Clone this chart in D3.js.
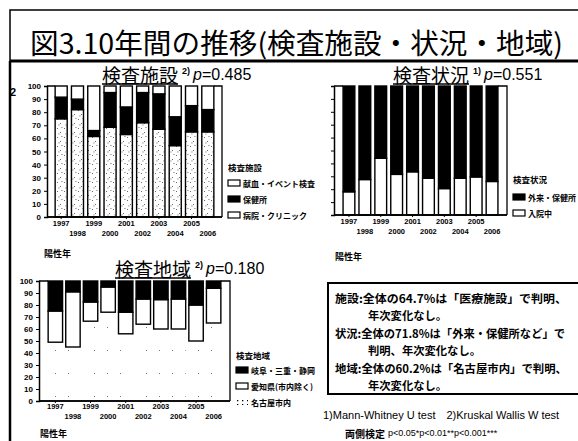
<!DOCTYPE html>
<html>
<head>
<meta charset="utf-8">
<script src="https://cdn.jsdelivr.net/npm/d3@7"></script>
<style>
  body { margin: 0; background: #fff; }
  svg { display: block; }
</style>
</head>
<body>
<svg id="fig" width="578" height="441"></svg>
<script>
// ---- data (percent of positives per year) ----
var years = [1997, 1998, 1999, 2000, 2001, 2002, 2003, 2004, 2005, 2006];
var yTicks = [0, 10, 20, 30, 40, 50, 60, 70, 80, 90, 100];

// 検査施設
var facilityKeys = ["病院・クリニック", "保健所", "献血・イベント検査"];
var clinic       = [75, 82, 61.5, 68.5, 63, 72, 67, 54.5, 65, 65];
var healthCenter = [16.5, 8, 4.5, 26.5, 21, 23, 27, 22, 20, 17];
var bloodEvent   = [8.5, 10, 34, 5, 16, 5, 6, 23.5, 15, 18];

// 検査状況
var statusKeys = ["入院中", "外来・保健所"];
var inpatient  = [18, 27.5, 44, 31.5, 33.5, 28.5, 20.5, 28.5, 29.5, 26];
var outpatient = [82, 72.5, 56, 68.5, 66.5, 71.5, 79.5, 71.5, 70.5, 74];

// 検査地域
var regionKeys = ["名古屋市内", "愛知県(市内除く)", "岐阜・三重・静岡"];
var nagoya = [49, 45, 66.5, 74, 56, 64, 60, 60, 50, 65];
var aichi  = [26, 46, 16, 21, 18, 21, 24.5, 25, 30, 29];
var other  = [25, 9, 17.5, 5, 26, 15, 15.5, 15, 20, 6];

var JP = "'Noto Sans CJK JP', sans-serif";
var LAT = "'Liberation Sans', Arial, sans-serif";

var svg = d3.select("#fig");
svg.append("rect").attr("width", 578).attr("height", 441).attr("fill", "#fff");

// speckle patterns for the lower segments
var defs = svg.append("defs");
var dots = defs.append("pattern").attr("id", "dots")
    .attr("patternUnits", "userSpaceOnUse").attr("width", 7).attr("height", 9);
dots.append("rect").attr("width", 7).attr("height", 9).attr("fill", "#fff");
[[1, 2], [4, 6], [5.5, 1], [2.5, 7.5]].forEach(function(p) {
  dots.append("rect").attr("x", p[0]).attr("y", p[1]).attr("width", 0.9).attr("height", 0.9).attr("fill", "#444");
});
var sparse = defs.append("pattern").attr("id", "sparse")
    .attr("patternUnits", "userSpaceOnUse").attr("width", 13).attr("height", 23);
sparse.append("rect").attr("width", 13).attr("height", 23).attr("fill", "#fff");
sparse.append("rect").attr("x", 3).attr("y", 5).attr("width", 0.9).attr("height", 0.9).attr("fill", "#555");
var colon = defs.append("pattern").attr("id", "colon")
    .attr("patternUnits", "userSpaceOnUse").attr("width", 5).attr("height", 4);
colon.append("rect").attr("width", 5).attr("height", 4).attr("fill", "#fff");
colon.append("rect").attr("x", 1).attr("y", 1).attr("width", 1.3).attr("height", 1.3).attr("fill", "#000");

// ---- page frame and title ----
svg.append("path").attr("d", "M10,441V10H578").attr("fill", "none").attr("stroke", "#000").attr("stroke-width", 1.5);
svg.append("line").attr("x1", 10).attr("x2", 578).attr("y1", 61).attr("y2", 61)
    .attr("stroke", "#000").attr("stroke-width", 3);
svg.append("line").attr("x1", 10).attr("x2", 10).attr("y1", 61).attr("y2", 441)
    .attr("stroke", "#000").attr("stroke-width", 2.5);
svg.append("text").attr("x", 30).attr("y", 42).attr("dominant-baseline", "central")
    .attr("font-family", JP).attr("font-size", 28)
    .attr("textLength", 533).attr("lengthAdjust", "spacingAndGlyphs")
    .text("図3.10年間の推移(検査施設・状況・地域)");
svg.append("text").attr("x", 10).attr("y", 92).attr("dominant-baseline", "central")
    .attr("font-family", LAT).attr("font-weight", "bold").attr("font-size", 11).text("2");

function chartTitle(x, y, label, note, p) {
  var t = svg.append("text").attr("x", x).attr("y", y).attr("dominant-baseline", "central")
      .attr("font-family", JP).attr("font-size", 19).text(label);
  var w = t.node().getComputedTextLength();
  svg.append("line").attr("x1", x).attr("x2", x + w).attr("y1", y + 10).attr("y2", y + 10)
      .attr("stroke", "#000").attr("stroke-width", 1.5);
  svg.append("text").attr("x", x + w + 4).attr("y", y - 3).attr("dominant-baseline", "central")
      .attr("font-family", LAT).attr("font-size", 9).attr("font-weight", "bold").text(note);
  var pt = svg.append("text").attr("x", x + w + 15).attr("y", y).attr("dominant-baseline", "central")
      .attr("font-family", LAT).attr("font-size", 16);
  pt.append("tspan").attr("font-style", "italic").text("p");
  pt.append("tspan").text("=" + p);
}

function stackChart(o) {
  var g = svg.append("g");
  var x = d3.scaleBand().domain(years).range(o.xr).paddingInner(o.pi).paddingOuter(o.po);
  var y = d3.scaleLinear().domain([0, 100]).range(o.yr);
  var rows = years.map(function(yr, i) {
    var r = { year: yr };
    o.keys.forEach(function(k, j) { r[k] = o.vals[j][i]; });
    return r;
  });
  var series = d3.stack().keys(o.keys)(rows);

  // right frame with short top hooks
  var first = x(years[0]), last = x(years[years.length - 1]) + x.bandwidth();
  g.append("path")
      .attr("d", "M" + o.xr[0] + "," + o.yr[1] + "H" + first +
                 "M" + last + "," + o.yr[1] + "H" + o.xr[1] + "V" + o.yr[0])
      .attr("fill", "none").attr("stroke", "#000").attr("stroke-width", 1.3);

  series.forEach(function(s, j) {
    g.append("g").selectAll("rect").data(s).join("rect")
        .attr("x", function(d) { return x(d.data.year); })
        .attr("y", function(d) { return y(d[1]); })
        .attr("width", x.bandwidth())
        .attr("height", function(d) { return y(d[0]) - y(d[1]); })
        .attr("fill", o.fills[j])
        .attr("stroke", o.strokes[j])
        .attr("stroke-width", 1.4);
  });

  var ya = g.append("g").attr("transform", "translate(" + o.xr[0] + ",0)")
      .call(d3.axisLeft(y).tickValues(yTicks).tickSize(3).tickPadding(3)
              .tickFormat(o.yLabels ? d3.format("d") : ""));
  ya.selectAll("text").attr("font-family", LAT).attr("font-weight", "bold").attr("font-size", 8);
  ya.select(".domain").attr("stroke-width", 1.5);

  [[0, o.pad1], [1, o.pad2]].forEach(function(r) {
    var xa = g.append("g").attr("transform", "translate(0," + o.yr[0] + ")")
        .call(d3.axisBottom(x).tickSize(2).tickPadding(r[1])
                .tickValues(years.filter(function(v, i) { return i % 2 === r[0]; })));
    xa.selectAll("text").attr("font-family", LAT).attr("font-weight", "bold").attr("font-size", 7.5);
    if (r[0] === 1) xa.selectAll("line").remove();
    xa.select(".domain").attr("d", "M" + o.xr[0] + ",0H" + o.xr[1]).attr("stroke-width", 1.5);
  });

  // legend (top-down order)
  var lg = svg.append("g").attr("transform", "translate(" + o.lx + "," + o.ly + ")");
  lg.append("text").attr("x", 0).attr("y", 0).attr("dominant-baseline", "central")
      .attr("font-family", JP).attr("font-weight", "bold").attr("font-size", 8.5).text(o.legendTitle);
  o.legend.forEach(function(it, i) {
    var yy = o.lstep0 + i * o.lstep;
    lg.append("rect").attr("x", 0).attr("y", yy - 3).attr("width", 12).attr("height", 6)
        .attr("fill", it.fill).attr("stroke", it.stroke).attr("stroke-width", 1.2);
    lg.append("text").attr("x", 15).attr("y", yy).attr("dominant-baseline", "central")
        .attr("font-family", JP).attr("font-weight", "bold").attr("font-size", 8).text(it.label);
  });

  svg.append("text").attr("x", o.ax).attr("y", o.ay).attr("dominant-baseline", "central")
      .attr("font-family", JP).attr("font-weight", "bold").attr("font-size", 9).text("陽性年");
}

// 検査施設
chartTitle(102, 74, "検査施設", "2)", "0.485");
stackChart({
  xr: [47, 222], yr: [217, 86], pi: 0.26, po: 0.5, yLabels: true, pad1: 2, pad2: 12,
  keys: facilityKeys, vals: [clinic, healthCenter, bloodEvent],
  fills: ["url(#dots)", "#000", "#fff"], strokes: ["#000", "#000", "#000"],
  lx: 228, ly: 167, lstep0: 16, lstep: 16, legendTitle: "検査施設",
  legend: [{ label: "献血・イベント検査", fill: "#fff", stroke: "#000" },
           { label: "保健所", fill: "#000", stroke: "#000" },
           { label: "病院・クリニック", fill: "#fff", stroke: "#000" }],
  ax: 44, ay: 253
});

// 検査状況
chartTitle(393, 74, "検査状況", "1)", "0.551");
stackChart({
  xr: [334, 507], yr: [215, 86], pi: 0.26, po: 0.57, yLabels: false, pad1: 2, pad2: 12,
  keys: statusKeys, vals: [inpatient, outpatient],
  fills: ["#fff", "#000"], strokes: ["#000", "#000"],
  lx: 513, ly: 179, lstep0: 18, lstep: 16, legendTitle: "検査状況",
  legend: [{ label: "外来・保健所", fill: "#000", stroke: "#000" },
           { label: "入院中", fill: "#fff", stroke: "#000" }],
  ax: 335, ay: 256
});

// 検査地域
chartTitle(115, 268, "検査地域", "2)", "0.180");
stackChart({
  xr: [39, 230], yr: [401, 281], pi: 0.18, po: 0.52, yLabels: true, pad1: 1, pad2: 11,
  keys: regionKeys, vals: [nagoya, aichi, other],
  fills: ["url(#sparse)", "#fff", "#000"], strokes: ["none", "#000", "#000"],
  lx: 236, ly: 355, lstep0: 15, lstep: 16, legendTitle: "検査地域",
  legend: [{ label: "岐阜・三重・静岡", fill: "#000", stroke: "#000" },
           { label: "愛知県(市内除く)", fill: "#fff", stroke: "#000" },
           { label: "名古屋市内", fill: "url(#colon)", stroke: "none" }],
  ax: 40, ay: 433
});

// ---- summary box ----
svg.append("rect").attr("x", 328).attr("y", 283).attr("width", 252).attr("height", 111)
    .attr("fill", "#fff").attr("stroke", "#000").attr("stroke-width", 2);
var notes = [
  [335, 298, "施設:全体の64.7%は「医療施設」で判明、", 232],
  [368, 315, "年次変化なし。", 0],
  [335, 333, "状況:全体の71.8%は「外来・保健所など」で", 230],
  [368, 350, "判明、年次変化なし。", 0],
  [335, 368, "地域:全体の60.2%は「名古屋市内」で判明、", 232],
  [368, 385, "年次変化なし。", 0]
];
svg.append("g").selectAll("text").data(notes).join("text")
    .attr("x", function(d) { return d[0]; })
    .attr("y", function(d) { return d[1]; })
    .attr("dominant-baseline", "central")
    .attr("font-family", JP).attr("font-weight", "bold").attr("font-size", 11.3)
    .each(function(d) {
      if (d[3]) d3.select(this).attr("textLength", d[3]).attr("lengthAdjust", "spacingAndGlyphs");
    })
    .text(function(d) { return d[2]; });

svg.append("text").attr("x", 323).attr("y", 415).attr("dominant-baseline", "central")
    .attr("font-family", LAT).attr("font-size", 11)
    .text("1)Mann-Whitney U test　2)Kruskal Wallis W test");
svg.append("text").attr("x", 345).attr("y", 433).attr("dominant-baseline", "central")
    .attr("font-family", JP).attr("font-weight", "bold").attr("font-size", 10).text("両側検定");
svg.append("text").attr("x", 388).attr("y", 433).attr("dominant-baseline", "central")
    .attr("font-family", LAT).attr("font-size", 9).text("p<0.05*p<0.01**p<0.001***");
</script>
</body>
</html>
